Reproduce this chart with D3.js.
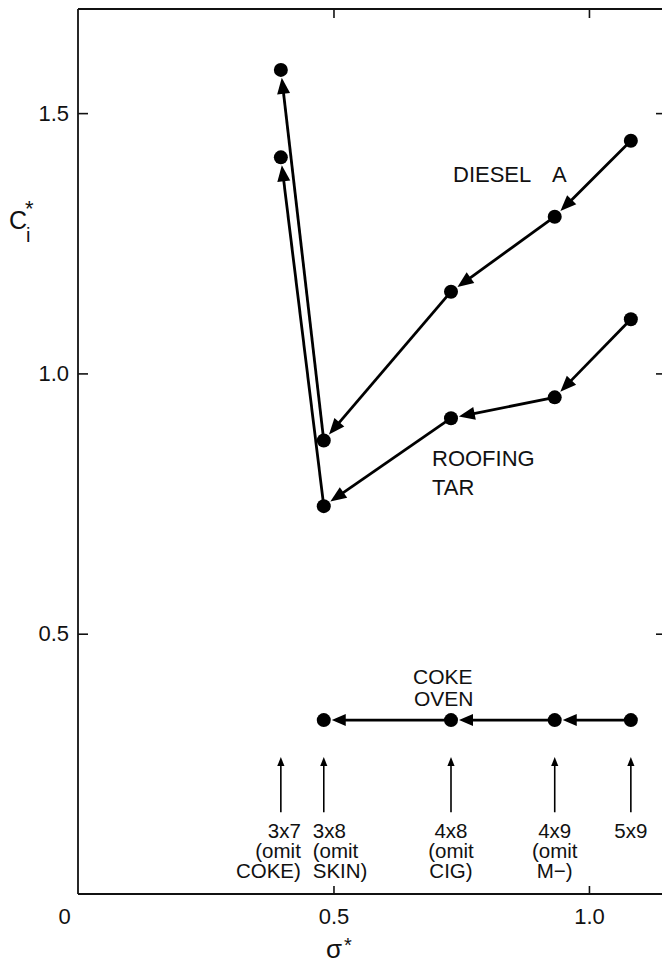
<!DOCTYPE html>
<html><head><meta charset="utf-8">
<script src="https://cdn.jsdelivr.net/npm/d3@7"></script>
<style>
html,body{margin:0;padding:0;background:#fff;}
svg{display:block;font-family:"Liberation Sans",Arial,Helvetica,sans-serif;}
</style></head><body>
<svg id="chart" width="662" height="965"></svg>
<script>
// Model configurations (rows x columns) and the source omitted in each
const configs = ["3x7", "3x8", "4x8", "4x9", "5x9"];
const omitted = ["COKE", "SKIN", "CIG", "M\u2212", null];
// sigma* for each configuration
const sigma = [0.397, 0.481, 0.730, 0.933, 1.082];
// C_i* for each source, per configuration
const diesel   = [1.583, 0.871, 1.157, 1.301, 1.447];
const roofing  = [1.415, 0.745, 0.914, 0.954, 1.104];
const cokeOven = [null, 0.334, 0.334, 0.334, 0.334];
// Axis ticks
const xTicks = [0, 0.5, 1.0];
const xTickLabels = ["0", "0.5", "1.0"];
const yTicks = [0.5, 1.0, 1.5];
const yTickLabels = ["0.5", "1.0", "1.5"];

const svg = d3.select("#chart");
const box = {left: 78, top: 9, right: 661, bottom: 894};
const x = d3.scaleLinear().domain([0, 1.141]).range([box.left, box.right]);
const y = d3.scaleLinear().domain([0, 1.7]).range([box.bottom, box.top]);

// ---- frame and inward ticks ----
const axisLeft = d3.axisLeft(y).tickValues(yTicks).tickSize(-10).tickPadding(9)
  .tickFormat((d, i) => yTickLabels[i]);
const gL = svg.append("g").attr("transform", `translate(${box.left},0)`).call(axisLeft);
const axisBottom = d3.axisBottom(x).tickValues(xTicks).tickSize(-8).tickPadding(14)
  .tickFormat((d, i) => xTickLabels[i]);
const gB = svg.append("g").attr("transform", `translate(0,${box.bottom})`).call(axisBottom);
const axisTop = d3.axisTop(x).tickValues(xTicks.filter(d => d > 0)).tickSize(-9).tickFormat("");
const gT = svg.append("g").attr("transform", `translate(0,${box.top})`).call(axisTop);
const axisRight = d3.axisRight(y).tickValues(yTicks).tickSize(-6).tickFormat("");
const gR = svg.append("g").attr("transform", `translate(${box.right + 1},0)`).call(axisRight);

[gL, gB, gT, gR].forEach(g => {
  g.select(".domain").remove();
  g.selectAll(".tick line").attr("stroke", "#111").attr("stroke-width", 1.6);
  g.selectAll(".tick text").attr("fill", "#111").attr("font-size", 22)
    .attr("font-family", "'Liberation Sans', Arial, sans-serif");
});
gB.selectAll(".tick").filter(d => d === 0).select("line").remove();
gB.selectAll(".tick").filter(d => d === 0).select("text").attr("dx", -14);
gB.selectAll(".tick text").attr("dy", "0.71em");

const frame = svg.append("g").attr("stroke", "#111").attr("stroke-width", 1.8).attr("fill", "none");
frame.append("line").attr("x1", box.left).attr("x2", box.left).attr("y1", box.top).attr("y2", box.bottom);
frame.append("line").attr("x1", box.left).attr("x2", 662).attr("y1", box.bottom).attr("y2", box.bottom);
frame.append("line").attr("x1", box.left).attr("x2", 662).attr("y1", box.top).attr("y2", box.top);

// ---- axis titles ----
const yTitle = svg.append("g").attr("fill", "#111");
yTitle.append("text").attr("x", 9).attr("y", 229).attr("font-size", 25).text("C");
yTitle.append("text").attr("x", 25).attr("y", 216).attr("font-size", 22).text("*");
yTitle.append("text").attr("x", 26).attr("y", 242).attr("font-size", 20).text("i");

const xTitle = svg.append("g").attr("fill", "#111");
xTitle.append("text").attr("x", 326).attr("y", 958).attr("font-size", 26).text("\u03c3");
xTitle.append("text").attr("x", 344).attr("y", 952).attr("font-size", 20).text("*");

// ---- series: arrows run from the larger configuration toward the smaller ----
function arrowSegment(g, from, to, r, headLen, headHalf, width) {
  const dx = to[0] - from[0], dy = to[1] - from[1];
  const len = Math.hypot(dx, dy);
  const ux = dx / len, uy = dy / len;
  const tip = [to[0] - ux * (r + 1), to[1] - uy * (r + 1)];
  const base = [tip[0] - ux * headLen, tip[1] - uy * headLen];
  g.append("line")
    .attr("x1", from[0]).attr("y1", from[1])
    .attr("x2", base[0] + ux * 2).attr("y2", base[1] + uy * 2)
    .attr("stroke", "#000").attr("stroke-width", width);
  g.append("path")
    .attr("d", d3.line()([tip,
      [base[0] - uy * headHalf, base[1] + ux * headHalf],
      [base[0] + uy * headHalf, base[1] - ux * headHalf]]) + "Z")
    .attr("fill", "#000");
}

function drawSeries(values, headLen, headHalf) {
  const pts = values.map((v, i) => v == null ? null : [x(sigma[i]), y(v)]);
  const g = svg.append("g");
  for (let i = pts.length - 1; i > 0; i--) {
    if (pts[i] && pts[i - 1]) arrowSegment(g, pts[i], pts[i - 1], 7, headLen, headHalf, 2.8);
  }
  g.selectAll("circle").data(pts.filter(p => p)).join("circle")
    .attr("cx", d => d[0]).attr("cy", d => d[1]).attr("r", 7).attr("fill", "#000");
}
drawSeries(diesel, 16, 6.5);
drawSeries(roofing, 16, 6.5);
drawSeries(cokeOven, 14, 6);

// ---- series labels ----
const lab = svg.append("g").attr("fill", "#111").attr("font-size", 22);
const dl = lab.append("text").attr("x", 453).attr("y", 182);
dl.append("tspan").text("DIESEL");
dl.append("tspan").attr("x", 552).text("A");
lab.append("text").attr("x", 432).attr("y", 466).text("ROOFING");
lab.append("text").attr("x", 432).attr("y", 495).text("TAR");
lab.append("text").attr("x", 413).attr("y", 684).attr("font-size", 21).text("COKE");
lab.append("text").attr("x", 414).attr("y", 706).attr("font-size", 21).text("OVEN");

// ---- configuration markers along the bottom ----
const marks = svg.append("g");
configs.forEach((c, i) => {
  const cx = x(sigma[i]);
  const top = y(0.263), bottom = y(0.157);
  marks.append("line").attr("x1", cx).attr("x2", cx).attr("y1", top + 6).attr("y2", bottom)
    .attr("stroke", "#000").attr("stroke-width", 1.6);
  marks.append("path")
    .attr("d", d3.line()([[cx, top], [cx - 3.6, top + 9], [cx + 3.6, top + 9]]) + "Z")
    .attr("fill", "#000");
  const lines = omitted[i] ? [c, "(omit", omitted[i] + ")"] : [c];
  let anchor = "middle", tx = cx;
  if (i === 0) { anchor = "end"; tx = cx + 20; }
  if (i === 1) { anchor = "start"; tx = cx - 11; }
  const t = marks.append("text").attr("fill", "#111").attr("font-size", 20.5)
    .attr("text-anchor", anchor);
  lines.forEach((s, k) => {
    t.append("tspan").attr("x", tx).attr("y", 838 + k * 20).text(s);
  });
});
</script>
</body></html>
